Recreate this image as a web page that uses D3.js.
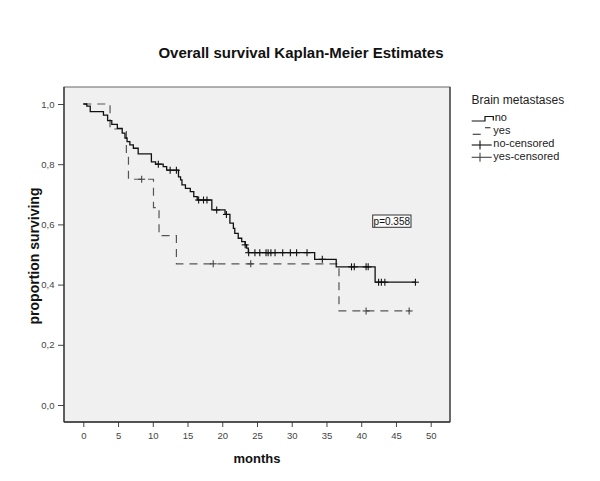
<!DOCTYPE html>
<html>
<head>
<meta charset="utf-8">
<script src="https://cdn.jsdelivr.net/npm/d3@7"></script>
<style>
  body { margin: 0; background: #fff; }
  text { font-family: "Liberation Sans", Arial, sans-serif; }
</style>
</head>
<body>
<svg id="chart" width="600" height="481"></svg>
<script>
// ---------------- data ----------------
const chartTitle = "Overall survival Kaplan-Meier Estimates";
const xAxisTitle = "months";
const yAxisTitle = "proportion surviving";
const legendTitle = "Brain metastases";
const legendLabels = ["no", "yes", "no-censored", "yes-censored"];
const pValueText = "p=0.358";

const xTickValues = [0, 5, 10, 15, 20, 25, 30, 35, 40, 45, 50];
const yTickValues = [0, 0.2, 0.4, 0.6, 0.8, 1.0];
const yTickLabels = ["0,0", "0,2", "0,4", "0,6", "0,8", "1,0"];

// group "no": step times (months) and survival after each step
const noStepTimes = [0, 0.5, 1.0, 2.9, 3.5, 4.1, 4.9, 5.6, 6.0, 6.3, 6.7, 7.2, 7.9, 9.8, 10.4, 11.5, 12.0,
  13.7, 14.0, 14.2, 14.7, 15.4, 15.9, 16.4, 18.5, 20.4, 21.1, 21.6, 21.8, 22.3, 22.8, 23.3, 23.5, 23.75,
  33.3, 36.4, 42.0];
const noStepSurv = [1.0, 0.993, 0.975, 0.963, 0.945, 0.932, 0.919, 0.903, 0.887, 0.875, 0.864, 0.853, 0.834, 0.808, 0.800, 0.792, 0.780,
  0.758, 0.748, 0.731, 0.720, 0.709, 0.692, 0.681, 0.648, 0.633, 0.604, 0.587, 0.570, 0.554, 0.543, 0.532, 0.521, 0.506,
  0.484, 0.459, 0.408];
const noEndTime = 47.8;
const noCensorTimes = [10.8, 12.5, 13.4, 16.6, 17.3, 17.8, 19.2, 20.6, 23.3, 23.8, 24.7, 25.4, 26.3, 26.6, 27.0,
  27.6, 28.7, 29.8, 30.7, 32.2, 34.4, 38.6, 39.0, 40.7, 41.0, 42.5, 42.9, 43.4, 47.8];

// group "yes"
const yesStepTimes = [0, 3.85, 6.2, 6.5, 10.1, 10.9, 13.4, 36.8];
const yesStepSurv = [1.0, 0.917, 0.833, 0.750, 0.656, 0.5625, 0.469, 0.3125];
const yesEndTime = 46.9;
const yesCensorTimes = [8.4, 18.7, 24.1, 40.7, 46.9];

// ---------------- layout ----------------
const svg = d3.select("#chart");
const frame = { left: 64, right: 450, top: 87, bottom: 422 };

const x = d3.scaleLinear().domain([0, 50]).range([83.3, 430.7]);
const y = d3.scaleLinear().domain([0, 1]).range([405, 104]);

// plot background
svg.append("rect")
  .attr("x", frame.left).attr("y", frame.top)
  .attr("width", frame.right - frame.left).attr("height", frame.bottom - frame.top)
  .attr("fill", "#f0f0f0").attr("stroke", "#666").attr("stroke-width", 1);

// title
svg.append("text").attr("x", 301).attr("y", 58)
  .attr("text-anchor", "middle").attr("font-size", 15).attr("font-weight", "bold")
  .attr("fill", "#111").text(chartTitle);

// axes
const xAxis = d3.axisBottom(x).tickValues(xTickValues).tickSize(5).tickPadding(5.5)
  .tickFormat(d3.format("d"));
const gx = svg.append("g").attr("transform", `translate(0,${frame.bottom})`).call(xAxis);
gx.select(".domain").remove();
gx.selectAll("line").attr("stroke", "#444");
gx.selectAll("text").attr("font-size", 9.5).attr("fill", "#444")
  .style("font-family", '"Liberation Sans", Arial, sans-serif');

const yAxis = d3.axisLeft(y).tickValues(yTickValues).tickSize(6).tickPadding(3.5)
  .tickFormat((d, i) => yTickLabels[i]);
const gy = svg.append("g").attr("transform", `translate(${frame.left},0)`).call(yAxis);
gy.select(".domain").remove();
gy.selectAll("line").attr("stroke", "#444");
gy.selectAll("text").attr("font-size", 9.5).attr("fill", "#444")
  .style("font-family", '"Liberation Sans", Arial, sans-serif');

// darker left, bottom & right frame lines
svg.append("line").attr("x1", frame.left).attr("x2", frame.left)
  .attr("y1", frame.top).attr("y2", frame.bottom).attr("stroke", "#333").attr("stroke-width", 1.3);
svg.append("line").attr("x1", frame.left).attr("x2", frame.right)
  .attr("y1", frame.bottom).attr("y2", frame.bottom).attr("stroke", "#333").attr("stroke-width", 1.3);
svg.append("line").attr("x1", frame.right).attr("x2", frame.right)
  .attr("y1", frame.top).attr("y2", frame.bottom).attr("stroke", "#444").attr("stroke-width", 1.3);

// axis titles
svg.append("text").attr("x", 257).attr("y", 463)
  .attr("text-anchor", "middle").attr("font-size", 13).attr("font-weight", "bold")
  .attr("fill", "#111").text(xAxisTitle);
svg.append("text").attr("transform", "translate(38.5,256) rotate(-90)")
  .attr("text-anchor", "middle").attr("font-size", 14).attr("font-weight", "bold")
  .attr("fill", "#111").text(yAxisTitle);

// curves
const stepLine = d3.line().x(d => x(d[0])).y(d => y(d[1])).curve(d3.curveStepAfter);
function stepData(times, surv, end) {
  const pts = times.map((t, i) => [t, surv[i]]);
  pts.push([end, surv[surv.length - 1]]);
  return pts;
}
function survAt(times, surv, t) {
  const i = d3.bisectRight(times, t) - 1;
  return surv[Math.max(0, i)];
}

const plot = svg.append("g");
plot.append("path").datum(stepData(yesStepTimes, yesStepSurv, yesEndTime))
  .attr("d", stepLine).attr("fill", "none").attr("stroke", "#555")
  .attr("stroke-width", 1.2).attr("stroke-dasharray", "8,6");
plot.append("path").datum(stepData(noStepTimes, noStepSurv, noEndTime))
  .attr("d", stepLine).attr("fill", "none").attr("stroke", "#111").attr("stroke-width", 1.3);

function drawCensors(times, stepT, stepS, color) {
  const g = plot.append("g").attr("stroke", color).attr("stroke-width", 1.1);
  times.forEach(t => {
    const cx = x(t), cy = y(survAt(stepT, stepS, t));
    g.append("line").attr("x1", cx).attr("x2", cx).attr("y1", cy - 3.5).attr("y2", cy + 3.5);
    g.append("line").attr("x1", cx - 3.5).attr("x2", cx + 3.5).attr("y1", cy).attr("y2", cy);
  });
}
drawCensors(yesCensorTimes, yesStepTimes, yesStepSurv, "#444");
drawCensors(noCensorTimes, noStepTimes, noStepSurv, "#111");

// p-value box
const pg = svg.append("g");
pg.append("rect").attr("x", 372.7).attr("y", 215).attr("width", 38.3).attr("height", 12.3)
  .attr("fill", "#fafafa").attr("stroke", "#333").attr("stroke-width", 1);
pg.append("text").attr("x", 391.8).attr("y", 224.6).attr("text-anchor", "middle")
  .attr("font-size", 10).attr("fill", "#111").text(pValueText);

// legend
const lg = svg.append("g");
lg.append("text").attr("x", 471.5).attr("y", 104.3).attr("font-size", 12).attr("fill", "#222").text(legendTitle);
const legBase = [121.2, 134.2, 147.2, 160.2];
// no: solid step symbol
lg.append("path").attr("d", "M471.7,121 H485 V116.5 H493.3 V120.5")
  .attr("fill", "none").attr("stroke", "#111").attr("stroke-width", 1.2);
// yes: dashed step symbol
lg.append("line").attr("x1", 472.7).attr("x2", 480.7).attr("y1", 134.3).attr("y2", 134.3)
  .attr("stroke", "#444").attr("stroke-width", 1.2);
lg.append("line").attr("x1", 485).attr("x2", 490.5).attr("y1", 127.7).attr("y2", 127.7)
  .attr("stroke", "#444").attr("stroke-width", 1.2);
// censored symbols
[145, 157.3].forEach((cy, i) => {
  const col = i === 0 ? "#111" : "#444";
  lg.append("line").attr("x1", 471.7).attr("x2", 491.7).attr("y1", cy).attr("y2", cy)
    .attr("stroke", col).attr("stroke-width", 1.1);
  lg.append("line").attr("x1", 480).attr("x2", 480).attr("y1", cy - 4.5).attr("y2", cy + 4.5)
    .attr("stroke", col).attr("stroke-width", 1.1);
});
const legX = [494.7, 493.3, 493.3, 493.3];
legendLabels.forEach((lab, i) => {
  lg.append("text").attr("x", legX[i]).attr("y", legBase[i]).attr("font-size", 11)
    .attr("fill", "#222").text(lab);
});
</script>
</body>
</html>
